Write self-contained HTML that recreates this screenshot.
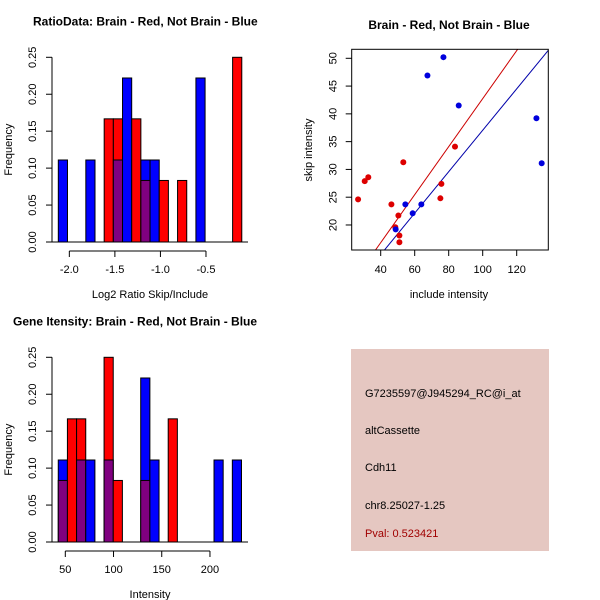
<!DOCTYPE html>
<html><head><meta charset="utf-8"><style>
body{margin:0;background:#fff}
svg{display:block;font-family:"Liberation Sans",sans-serif}
</style></head><body>
<svg id="c" width="600" height="600" viewBox="0 0 600 600">
<rect x="0" y="0" width="600" height="600" fill="#fff"/>
<g id="p1"></g>
<g id="p2"></g>
<g id="p3"></g>
<g>
<rect x="351" y="349" width="198" height="202" fill="#e5c7c1"/>
<text x="365" y="397" font-size="11" fill="#000">G7235597@J945294_RC@i_at</text>
<text x="365" y="434" font-size="11" fill="#000">altCassette</text>
<text x="365" y="471" font-size="11" fill="#000">Cdh11</text>
<text x="365" y="509" font-size="11" fill="#000">chr8.25027-1.25</text>
<text x="365" y="537" font-size="11" fill="#a00000">Pval: 0.523421</text>
</g>
</svg>
<script>
// ratio histogram data (bin index -> frequency)
const ratioBinStart = -2.121;
const ratioBinWidth = 0.1007;
const ratioBlue = [0.111,0,0,0.111,0,0,0.111,0.222,0,0.111,0.111,0,0,0,0,0.222,0,0,0,0];
const ratioRed  = [0,0,0,0,0,0.1667,0.1667,0,0.1667,0.0833,0,0.0833,0,0.0833,0,0,0,0,0,0.25];
const ratioTicks = [-2.0,-1.5,-1.0,-0.5];
const ratioTickLabels = ["-2.0","-1.5","-1.0","-0.5"];
// intensity histogram data
const intBinStart = 42.7;
const intBinWidth = 9.5;
const intBlue = [0.111,0,0.111,0.111,0,0.111,0,0,0,0.222,0.111,0,0,0,0,0,0,0.111,0,0.111];
const intRed  = [0.0833,0.1667,0.1667,0,0,0.25,0.0833,0,0,0.0833,0,0,0.1667,0,0,0,0,0,0,0];
const intTicks = [50,100,150,200];
const freqTicks = [0,0.05,0.10,0.15,0.20,0.25];
const freqTickLabels = ["0.00","0.05","0.10","0.15","0.20","0.25"];
// scatter data
const blueX = [76.9,67.5,85.9,131.6,134.7,54.5,63.9,58.8,48.8];
const blueY = [50.2,46.9,41.5,39.2,31.1,23.7,23.7,22.1,19.2];
const redX = [26.7,30.6,32.7,53.3,83.7,75.7,75.1,46.3,50.4,48.6,51.0,51.0];
const redY = [24.6,27.9,28.6,31.3,34.1,27.4,24.8,23.7,21.7,19.6,18.1,16.9];
const redFit = [-0.46,0.432];
const blueFit = [-0.25,0.373];
const scXTicks = [40,60,80,100,120];
const scYTicks = [20,25,30,35,40,45,50];

const NS="http://www.w3.org/2000/svg";
function mk(tag,attrs,parent,txt){const e=document.createElementNS(NS,tag);for(const k in attrs)e.setAttribute(k,attrs[k]);if(txt!==undefined)e.textContent=txt;parent.appendChild(e);return e;}

function hist(g,opts){
  const {binStart,binW,blue,red,xs,xTicks,xLabels,yTop,yBot,title,titleX,xlab,left,right}=opts;
  const ys=v=>yBot-v*(yBot-yTop)/0.25;
  const n=blue.length;
  for(let i=0;i<n;i++){
    const b=blue[i],r=red[i];
    if(!b&&!r)continue;
    const xa=xs(binStart+i*binW),xb=xs(binStart+(i+1)*binW);
    const hi=Math.max(b,r),lo=Math.min(b,r);
    const top=mk('rect',{x:xa,y:ys(hi),width:xb-xa,height:ys(0)-ys(hi),fill:b>=r?'#0000ff':'#ff0000',stroke:'#000','stroke-width':1},g);
    
    
    if(lo>0){
      const ov=mk('rect',{x:xa,y:ys(lo),width:xb-xa,height:ys(0)-ys(lo),fill:'#800080',stroke:'#000','stroke-width':1},g);
      
      
    }
  }
  mk('line',{x1:left,x2:right,y1:yBot,y2:yBot,stroke:'#000'},g);
  const ya=mk('g',{},g);
  
  
  mk('line',{x1:left,x2:left,y1:ys(0),y2:ys(0.25),stroke:'#000'},ya);
  freqTicks.forEach((t,i)=>{
    mk('line',{x1:left,x2:left-6,y1:ys(t),y2:ys(t),stroke:'#000'},ya);
    mk('text',{x:0,y:0,transform:`translate(${left-16},${ys(t)}) rotate(-90)`,'text-anchor':'middle','font-size':11},ya,freqTickLabels[i]);
  });
  const yt=mk('text',{x:0,y:0,transform:`translate(12,${(yTop+yBot)/2}) rotate(-90)`,'text-anchor':'middle','font-size':11},g,'Frequency');
  
  
  const xa=mk('g',{},g);
  
  
  const ay=yBot+9;
  mk('line',{x1:xs(xTicks[0]),x2:xs(xTicks[xTicks.length-1]),y1:ay,y2:ay,stroke:'#000'},xa);
  xTicks.forEach((t,i)=>{
    mk('line',{x1:xs(t),x2:xs(t),y1:ay,y2:ay+6,stroke:'#000'},xa);
    mk('text',{x:xs(t),y:ay+22,'text-anchor':'middle','font-size':11},xa,xLabels[i]);
  });
  const xt=mk('text',{x:(left+right)/2,y:yBot+56,'text-anchor':'middle','font-size':11},g,xlab);
  
  
  const tt=mk('text',{x:titleX,y:yTop-32,'font-size':12,'font-weight':'bold'},g,title);
  
  
}

hist(document.getElementById('p1'),{binStart:ratioBinStart,binW:ratioBinWidth,blue:ratioBlue,red:ratioRed,
  xs:v=>69.33+(v+2)*91.1,xTicks:ratioTicks,xLabels:ratioTickLabels,yTop:57.3,yBot:242,
  title:'RatioData: Brain - Red, Not Brain - Blue',titleX:33,xlab:'Log2 Ratio Skip/Include',left:52,right:248});
hist(document.getElementById('p3'),{binStart:intBinStart,binW:intBinWidth,blue:intBlue,red:intRed,
  xs:v=>65.3+(v-50)*0.9644,xTicks:intTicks,xLabels:intTicks.map(String),yTop:357.3,yBot:542,
  title:'Gene Itensity: Brain - Red, Not Brain - Blue',titleX:13,xlab:'Intensity',left:52,right:248});

(function(){
  const g=document.getElementById('p2');
  const L=351.7,R=548.3,T=49.3,B=250;
  const xs=v=>380.7+(v-40)*1.7;
  const ys=v=>58.3-(v-50)*5.556;
  const xmin=22.9,xmax=138.6;
  mk('clipPath',{id:'clip'},g);
  mk('rect',{x:L,y:T,width:R-L,height:B-T},g.lastChild);
  const lines=mk('g',{'clip-path':'url(#clip)'},g);
  [[redFit,'#cc0000','red-fit-line'],[blueFit,'#0000aa','blue-fit-line']].forEach(([f,c,n])=>{
    const l=mk('line',{x1:xs(xmin),y1:ys(f[0]+f[1]*xmin),x2:xs(xmax),y2:ys(f[0]+f[1]*xmax),stroke:c,'stroke-width':1},lines);
    
    
  });
  redX.forEach((x,i)=>{
    const c=mk('circle',{cx:xs(x),cy:ys(redY[i]),r:3,fill:'#dd0000'},g);
    
    
  });
  blueX.forEach((x,i)=>{
    const c=mk('circle',{cx:xs(x),cy:ys(blueY[i]),r:3,fill:'#0000dd'},g);
    
    
  });
  mk('rect',{x:L,y:T,width:R-L,height:B-T,fill:'none',stroke:'#000'},g);
  scXTicks.forEach(t=>{
    mk('line',{x1:xs(t),x2:xs(t),y1:B,y2:B+6,stroke:'#000'},g);
    mk('text',{x:xs(t),y:B+23,'text-anchor':'middle','font-size':11},g,String(t));
  });
  scYTicks.forEach(t=>{
    mk('line',{x1:L,x2:L-6,y1:ys(t),y2:ys(t),stroke:'#000'},g);
    mk('text',{x:0,y:0,transform:`translate(${L-15},${ys(t)}) rotate(-90)`,'text-anchor':'middle','font-size':11},g,String(t));
  });
  const xt=mk('text',{x:449,y:298,'text-anchor':'middle','font-size':11},g,'include intensity');
  
  
  const yt=mk('text',{x:0,y:0,transform:`translate(312,150) rotate(-90)`,'text-anchor':'middle','font-size':11},g,'skip intensity');
  
  
  const tt=mk('text',{x:449,y:29,'text-anchor':'middle','font-size':12,'font-weight':'bold'},g,'Brain - Red, Not Brain - Blue');
  
  
})();
</script>
</body></html>
